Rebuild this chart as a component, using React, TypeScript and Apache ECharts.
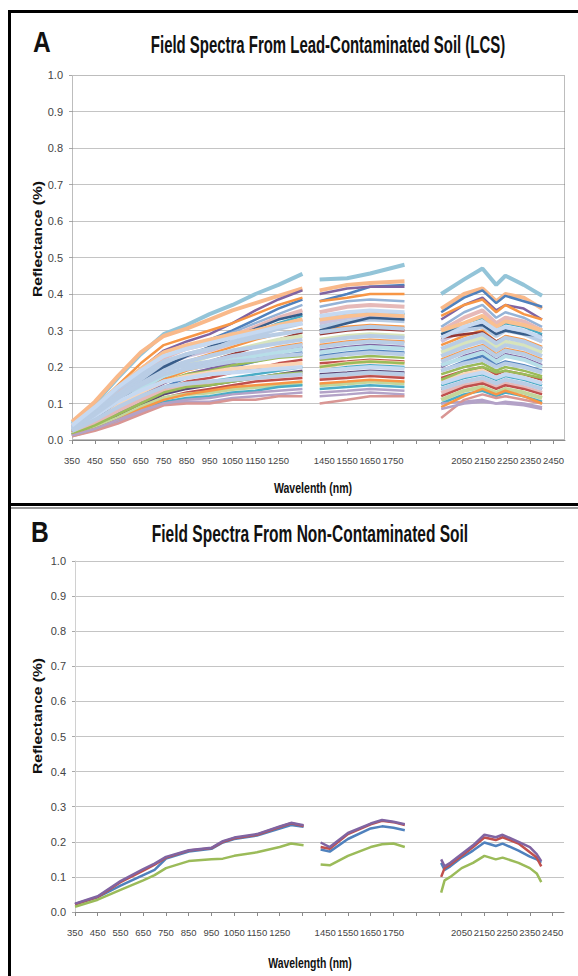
import React, { useEffect, useRef } from "react";
import * as echarts from "echarts";

// wavelength (nm) at the left end of each x axis; axes are drawn as offset from it
const X_ORIGIN = 350;
const X_SPAN = 2150;

// tick labels shown on the wavelength axes (1350, 1850, 1950 are blank in the source)
const xTickLabels = [350, 450, 550, 650, 750, 850, 950, 1050, 1150, 1250, 1450, 1550, 1650, 1750, 2050, 2150, 2250, 2350, 2450];

// ---------- Panel A : Lead-contaminated soil spectra ----------
const lcsWaveSeg1 = [350, 450, 550, 650, 750, 850, 950, 1050, 1150, 1250, 1355];
const lcsWaveSeg2 = [1430, 1550, 1650, 1800];
const lcsWaveSeg3 = [1960, 2060, 2140, 2200, 2240, 2320, 2400];

const lcsSpectra: number[][] = [
  [0.045, 0.10, 0.17, 0.235, 0.29, 0.315, 0.345, 0.37, 0.40, 0.425, 0.455, 0.44, 0.443, 0.456, 0.48, 0.40, 0.44, 0.47, 0.425, 0.45, 0.425, 0.395],
  [0.05, 0.105, 0.175, 0.24, 0.285, 0.305, 0.33, 0.355, 0.375, 0.395, 0.415, 0.41, 0.425, 0.43, 0.435, 0.36, 0.40, 0.415, 0.38, 0.40, 0.39, 0.36],
  [0.03, 0.07, 0.12, 0.175, 0.225, 0.255, 0.275, 0.30, 0.33, 0.36, 0.385, 0.38, 0.40, 0.42, 0.425, 0.35, 0.39, 0.41, 0.375, 0.395, 0.38, 0.365],
  [0.035, 0.08, 0.14, 0.195, 0.245, 0.27, 0.29, 0.32, 0.355, 0.385, 0.41, 0.40, 0.415, 0.42, 0.42, 0.33, 0.37, 0.39, 0.355, 0.37, 0.36, 0.33],
  [0.04, 0.09, 0.15, 0.21, 0.26, 0.28, 0.30, 0.32, 0.345, 0.37, 0.39, 0.38, 0.39, 0.40, 0.40, 0.34, 0.37, 0.385, 0.35, 0.37, 0.345, 0.33],
  [0.03, 0.075, 0.13, 0.18, 0.225, 0.25, 0.27, 0.295, 0.32, 0.345, 0.37, 0.365, 0.38, 0.385, 0.38, 0.31, 0.35, 0.37, 0.335, 0.35, 0.335, 0.31],
  [0.035, 0.08, 0.135, 0.185, 0.225, 0.25, 0.265, 0.285, 0.31, 0.335, 0.355, 0.35, 0.365, 0.37, 0.365, 0.30, 0.335, 0.355, 0.32, 0.335, 0.325, 0.30],
  [0.025, 0.065, 0.11, 0.16, 0.205, 0.23, 0.25, 0.27, 0.295, 0.32, 0.34, 0.33, 0.345, 0.35, 0.345, 0.29, 0.32, 0.335, 0.305, 0.32, 0.31, 0.29],
  [0.03, 0.07, 0.12, 0.165, 0.205, 0.23, 0.245, 0.265, 0.29, 0.31, 0.33, 0.32, 0.335, 0.34, 0.335, 0.27, 0.305, 0.32, 0.29, 0.305, 0.295, 0.27],
  [0.03, 0.075, 0.125, 0.17, 0.21, 0.235, 0.25, 0.27, 0.285, 0.305, 0.32, 0.31, 0.325, 0.33, 0.325, 0.28, 0.30, 0.31, 0.285, 0.30, 0.29, 0.27],
  [0.02, 0.055, 0.10, 0.145, 0.19, 0.215, 0.235, 0.255, 0.275, 0.29, 0.305, 0.30, 0.31, 0.315, 0.31, 0.26, 0.285, 0.30, 0.27, 0.285, 0.275, 0.255],
  [0.02, 0.05, 0.09, 0.13, 0.17, 0.195, 0.215, 0.235, 0.255, 0.275, 0.295, 0.29, 0.30, 0.305, 0.30, 0.28, 0.29, 0.295, 0.27, 0.28, 0.27, 0.25],
  [0.025, 0.06, 0.105, 0.15, 0.19, 0.21, 0.23, 0.245, 0.26, 0.275, 0.285, 0.275, 0.285, 0.29, 0.285, 0.24, 0.265, 0.28, 0.255, 0.27, 0.26, 0.24],
  [0.03, 0.07, 0.12, 0.16, 0.195, 0.215, 0.23, 0.245, 0.255, 0.265, 0.275, 0.27, 0.28, 0.285, 0.28, 0.23, 0.255, 0.27, 0.245, 0.26, 0.25, 0.23],
  [0.02, 0.05, 0.09, 0.13, 0.165, 0.19, 0.205, 0.22, 0.24, 0.255, 0.265, 0.26, 0.27, 0.275, 0.27, 0.22, 0.245, 0.26, 0.235, 0.25, 0.24, 0.22],
  [0.02, 0.045, 0.08, 0.12, 0.155, 0.18, 0.195, 0.21, 0.225, 0.24, 0.255, 0.245, 0.255, 0.26, 0.255, 0.20, 0.23, 0.245, 0.22, 0.235, 0.225, 0.205],
  [0.025, 0.06, 0.10, 0.14, 0.175, 0.195, 0.205, 0.22, 0.23, 0.24, 0.25, 0.24, 0.25, 0.255, 0.25, 0.205, 0.225, 0.24, 0.215, 0.23, 0.22, 0.20],
  [0.015, 0.04, 0.075, 0.11, 0.145, 0.17, 0.185, 0.20, 0.215, 0.23, 0.24, 0.23, 0.24, 0.245, 0.24, 0.19, 0.215, 0.23, 0.205, 0.215, 0.205, 0.19],
  [0.02, 0.05, 0.09, 0.13, 0.16, 0.18, 0.19, 0.205, 0.215, 0.225, 0.23, 0.22, 0.225, 0.23, 0.225, 0.18, 0.20, 0.21, 0.19, 0.20, 0.19, 0.175],
  [0.015, 0.04, 0.07, 0.105, 0.14, 0.16, 0.17, 0.185, 0.195, 0.21, 0.22, 0.21, 0.215, 0.22, 0.215, 0.17, 0.19, 0.20, 0.18, 0.19, 0.18, 0.165],
  [0.025, 0.055, 0.095, 0.13, 0.16, 0.175, 0.185, 0.195, 0.20, 0.205, 0.21, 0.20, 0.21, 0.215, 0.21, 0.16, 0.18, 0.19, 0.17, 0.18, 0.17, 0.155],
  [0.015, 0.04, 0.07, 0.10, 0.13, 0.15, 0.16, 0.17, 0.18, 0.19, 0.20, 0.19, 0.20, 0.205, 0.20, 0.15, 0.17, 0.18, 0.165, 0.175, 0.165, 0.15],
  [0.015, 0.035, 0.065, 0.095, 0.125, 0.14, 0.15, 0.16, 0.17, 0.18, 0.19, 0.18, 0.185, 0.19, 0.185, 0.14, 0.16, 0.17, 0.155, 0.165, 0.155, 0.14],
  [0.02, 0.045, 0.08, 0.11, 0.135, 0.15, 0.155, 0.165, 0.17, 0.175, 0.18, 0.17, 0.175, 0.18, 0.175, 0.13, 0.15, 0.16, 0.145, 0.155, 0.145, 0.13],
  [0.012, 0.03, 0.06, 0.09, 0.115, 0.13, 0.14, 0.15, 0.16, 0.165, 0.17, 0.165, 0.17, 0.175, 0.17, 0.12, 0.145, 0.155, 0.14, 0.15, 0.14, 0.125],
  [0.015, 0.035, 0.06, 0.09, 0.115, 0.125, 0.13, 0.14, 0.145, 0.15, 0.155, 0.15, 0.155, 0.16, 0.155, 0.11, 0.135, 0.145, 0.13, 0.14, 0.13, 0.115],
  [0.012, 0.03, 0.055, 0.08, 0.105, 0.115, 0.12, 0.13, 0.135, 0.145, 0.15, 0.14, 0.145, 0.15, 0.145, 0.10, 0.125, 0.135, 0.12, 0.13, 0.12, 0.105],
  [0.01, 0.028, 0.05, 0.075, 0.10, 0.105, 0.105, 0.115, 0.12, 0.125, 0.13, 0.12, 0.125, 0.13, 0.125, 0.10, 0.105, 0.11, 0.10, 0.105, 0.10, 0.09],
  [0.01, 0.025, 0.045, 0.07, 0.095, 0.10, 0.10, 0.11, 0.11, 0.12, 0.12, 0.10, 0.11, 0.12, 0.12, 0.06, 0.11, 0.125, 0.115, 0.12, 0.11, 0.10],
  [0.025, 0.06, 0.105, 0.155, 0.20, 0.23, 0.255, 0.28, 0.305, 0.33, 0.345, 0.30, 0.32, 0.335, 0.33, 0.29, 0.31, 0.315, 0.29, 0.30, 0.29, 0.285],
  [0.04, 0.09, 0.145, 0.195, 0.24, 0.26, 0.275, 0.29, 0.30, 0.315, 0.33, 0.33, 0.34, 0.345, 0.34, 0.30, 0.32, 0.34, 0.31, 0.325, 0.315, 0.30],
  [0.035, 0.085, 0.14, 0.18, 0.215, 0.235, 0.25, 0.265, 0.28, 0.29, 0.30, 0.295, 0.305, 0.31, 0.305, 0.25, 0.275, 0.29, 0.265, 0.28, 0.27, 0.25],
  [0.03, 0.07, 0.115, 0.15, 0.18, 0.195, 0.205, 0.215, 0.22, 0.23, 0.235, 0.225, 0.235, 0.24, 0.235, 0.19, 0.21, 0.22, 0.20, 0.21, 0.20, 0.185],
  [0.03, 0.065, 0.105, 0.135, 0.16, 0.17, 0.18, 0.185, 0.19, 0.195, 0.20, 0.19, 0.195, 0.20, 0.195, 0.155, 0.175, 0.185, 0.17, 0.18, 0.17, 0.155],
  [0.015, 0.04, 0.07, 0.10, 0.13, 0.145, 0.15, 0.16, 0.17, 0.18, 0.185, 0.20, 0.21, 0.215, 0.21, 0.165, 0.19, 0.20, 0.185, 0.19, 0.18, 0.17],
  [0.012, 0.03, 0.055, 0.085, 0.11, 0.125, 0.135, 0.145, 0.15, 0.155, 0.16, 0.155, 0.16, 0.165, 0.16, 0.09, 0.12, 0.14, 0.125, 0.135, 0.12, 0.10],
  [0.012, 0.03, 0.055, 0.08, 0.10, 0.11, 0.115, 0.125, 0.13, 0.135, 0.14, 0.13, 0.135, 0.14, 0.135, 0.085, 0.10, 0.105, 0.10, 0.10, 0.095, 0.085],
  [0.03, 0.07, 0.115, 0.155, 0.19, 0.205, 0.215, 0.23, 0.24, 0.25, 0.26, 0.255, 0.265, 0.27, 0.265, 0.215, 0.24, 0.255, 0.23, 0.245, 0.235, 0.215],
  [0.025, 0.055, 0.09, 0.12, 0.145, 0.155, 0.16, 0.165, 0.17, 0.175, 0.18, 0.175, 0.18, 0.185, 0.18, 0.14, 0.16, 0.17, 0.155, 0.165, 0.155, 0.14],
  [0.04, 0.09, 0.145, 0.19, 0.23, 0.25, 0.265, 0.28, 0.295, 0.31, 0.32, 0.34, 0.35, 0.355, 0.35, 0.28, 0.31, 0.325, 0.30, 0.31, 0.30, 0.28],
];

const lcsColors = [
  "#93C4D8", "#F9B98A", "#4F81BD", "#8064A2", "#F79646", "#95B3D7", "#E6B9B8", "#4BACC6",
  "#CCC1DA", "#B9CDE5", "#F79646", "#953735", "#D7E4BD", "#B9CDE5", "#F79646", "#8064A2",
  "#B7DEE8", "#4F81BD", "#9BBB59", "#C0504D", "#FCD5B5", "#4BACC6", "#5C4776", "#E6B9B8",
  "#C0504D", "#C3D69B", "#4BACC6", "#B3A2C7", "#D99694", "#385D8A", "#FAC090", "#B9CDE5",
  "#B9CDE5", "#C6D9F1", "#9BBB59", "#F79646", "#B3A2C7", "#B9CDE5", "#B9CDE5", "#C6D9F1",
];

// ---------- Panel B : Non-contaminated soil spectra ----------
const ncsWaveSeg1 = [350, 450, 550, 650, 700, 750, 850, 950, 1000, 1050, 1150, 1250, 1300, 1355];
const ncsWaveSeg2 = [1430, 1470, 1550, 1650, 1700, 1750, 1800];
const ncsWaveSeg3 = [1960, 1975, 2000, 2050, 2100, 2150, 2200, 2230, 2300, 2350, 2380, 2400];

const ncsBlue = [0.022, 0.042, 0.075, 0.105, 0.12, 0.152, 0.172, 0.18, 0.198, 0.208, 0.218, 0.238, 0.248, 0.243,
  0.178, 0.172, 0.208, 0.238, 0.244, 0.24, 0.233,
  0.14, 0.12, 0.13, 0.155, 0.175, 0.198, 0.188, 0.195, 0.175, 0.158, 0.15, 0.14];
const ncsRed = [0.022, 0.043, 0.085, 0.118, 0.135, 0.155, 0.175, 0.182, 0.2, 0.21, 0.22, 0.242, 0.253, 0.245,
  0.185, 0.18, 0.222, 0.25, 0.26, 0.256, 0.248,
  0.1, 0.125, 0.135, 0.16, 0.185, 0.212, 0.205, 0.213, 0.195, 0.17, 0.155, 0.13];
const ncsGreen = [0.015, 0.035, 0.063, 0.09, 0.105, 0.125, 0.145, 0.15, 0.152, 0.16, 0.17, 0.185, 0.195, 0.19,
  0.135, 0.133, 0.16, 0.185, 0.193, 0.195, 0.185,
  0.055, 0.09, 0.1, 0.125, 0.14, 0.16, 0.15, 0.155, 0.14, 0.125, 0.11, 0.085];
const ncsPurple = [0.024, 0.045, 0.088, 0.122, 0.138, 0.157, 0.176, 0.183, 0.202, 0.212, 0.222, 0.244, 0.254, 0.247,
  0.198, 0.185, 0.225, 0.252, 0.262, 0.257, 0.25,
  0.15, 0.13, 0.14, 0.165, 0.19, 0.22, 0.213, 0.22, 0.2, 0.185, 0.165, 0.145];

const ncsSeries = [ncsBlue, ncsRed, ncsGreen, ncsPurple];
const ncsColors = ["#4F81BD", "#C0504D", "#9BBB59", "#8064A2"];

function toLineData(segments: number[][], values: number[]) {
  const out: (number | null)[][] = [];
  let k = 0;
  segments.forEach((seg, si) => {
    if (si > 0) {
      const prev = segments[si - 1];
      out.push([(prev[prev.length - 1] + seg[0]) / 2 - X_ORIGIN, null]);
    }
    seg.forEach((w) => {
      out.push([w - X_ORIGIN, values[k]]);
      k++;
    });
  });
  return out;
}

function isPale(hex: string) {
  const n = parseInt(hex.slice(1), 16);
  const r = (n >> 16) & 255, g = (n >> 8) & 255, b = n & 255;
  return 0.299 * r + 0.587 * g + 0.114 * b > 175;
}

const labelFont = "'Liberation Sans', Arial, sans-serif";
const titleFont = "'Liberation Sans', Arial, sans-serif";

function xAxisFor(gridIndex: number) {
  return {
    type: "value",
    gridIndex,
    min: 0,
    max: X_SPAN,
    interval: 100,
    axisLine: { show: true, lineStyle: { color: "#8a8a8a", width: 1 } },
    axisTick: { show: true, length: 4, lineStyle: { color: "#8a8a8a" } },
    splitLine: { show: false },
    axisLabel: {
      margin: 15,
      fontSize: 9.5,
      fontFamily: labelFont,
      color: "#444444",
      showMaxLabel: false,
      hideOverlap: false,
      formatter: (v: number) => {
        const w = Math.round(v) + X_ORIGIN;
        return xTickLabels.includes(w) ? String(w) : "";
      },
    },
  };
}

function yAxisFor(gridIndex: number) {
  return {
    type: "value",
    gridIndex,
    min: 0,
    max: 1,
    interval: 0.1,
    axisLine: { show: gridIndex === 1, lineStyle: { color: "#d0d0d0" } },
    axisTick: { show: true, length: 3, lineStyle: { color: "#a8a8a8" } },
    splitLine: {
      show: true,
      showMaxLine: gridIndex === 1,
      lineStyle: { color: "#c4c4c4", width: 1 },
    },
    axisLabel: {
      margin: 9,
      fontSize: 11,
      fontFamily: labelFont,
      color: "#444444",
      formatter: (v: number) => v.toFixed(1),
    },
  };
}

export default function App() {
  const ref = useRef<HTMLDivElement>(null);

  useEffect(() => {
    if (!ref.current) return;
    const chart = echarts.init(ref.current, undefined, { renderer: "svg" });

    const series: any[] = [];
    lcsSpectra.forEach((vals, i) => {
      const c = lcsColors[i % lcsColors.length];
      series.push({
        type: "line",
        xAxisIndex: 0,
        yAxisIndex: 0,
        data: toLineData([lcsWaveSeg1, lcsWaveSeg2, lcsWaveSeg3], vals),
        showSymbol: false,
        symbol: "none",
        connectNulls: false,
        lineStyle: { color: c, width: isPale(c) ? 4 : 2.5 },
        itemStyle: { color: c },
        z: 3,
      });
    });
    ncsSeries.forEach((vals, i) => {
      series.push({
        type: "line",
        xAxisIndex: 1,
        yAxisIndex: 1,
        data: toLineData([ncsWaveSeg1, ncsWaveSeg2, ncsWaveSeg3], vals),
        showSymbol: false,
        symbol: "none",
        connectNulls: false,
        lineStyle: { color: ncsColors[i], width: 2.5 },
        itemStyle: { color: ncsColors[i] },
        z: 3,
      });
    });

    const txt = (text: string, x: number, y: number, font: string, extra: any = {}) => ({
      type: "text",
      x,
      y,
      ...extra,
      style: {
        text,
        x: 0,
        y: 0,
        font,
        fill: "#111",
        align: "center",
        verticalAlign: "middle",
        textAlign: "center",
        textVerticalAlign: "middle",
      },
      silent: true,
      z: 10,
    });

    chart.setOption({
      animation: false,
      backgroundColor: "#ffffff",
      grid: [
        { left: 72, top: 75, width: 493, height: 365, containLabel: false },
        { left: 75, top: 561, width: 489, height: 351, containLabel: false },
      ],
      xAxis: [xAxisFor(0), xAxisFor(1)],
      yAxis: [yAxisFor(0), yAxisFor(1)],
      series,
      graphic: [
        // panel frames
        {
          type: "rect",
          shape: { x: 9.5, y: 11.5, width: 640, height: 493 },
          style: { fill: "none", stroke: "#000", lineWidth: 3 },
          silent: true,
          z: 1,
        },
        {
          type: "line",
          shape: { x1: 11, y1: 508, x2: 578, y2: 508 },
          style: { stroke: "#9a9a9a", lineWidth: 2 },
          silent: true,
          z: 1,
        },
        {
          type: "line",
          shape: { x1: 9.5, y1: 506, x2: 9.5, y2: 980 },
          style: { stroke: "#000", lineWidth: 3 },
          silent: true,
          z: 1,
        },
        // dotted plot-area border of panel A
        {
          type: "rect",
          shape: { x: 72.5, y: 75.5, width: 492, height: 364 },
          style: { fill: "none", stroke: "#7a7a7a", lineWidth: 1, lineDash: [1, 1] },
          silent: true,
          z: 1,
        },
        txt("A", 42, 42, `bold 30px ${titleFont}`, { scaleX: 0.82 }),
        txt("Field Spectra From Lead-Contaminated Soil (LCS)", 328, 45, `bold 23px ${titleFont}`, { scaleX: 0.65 }),
        txt("B", 40, 532, `bold 30px ${titleFont}`, { scaleX: 0.82 }),
        txt("Field Spectra From Non-Contaminated Soil", 310, 534, `bold 23px ${titleFont}`, { scaleX: 0.675 }),
        txt("Reflectance (%)", 37, 239, `bold 13px ${titleFont}`, { rotation: Math.PI / 2, scaleX: 1.2 }),
        txt("Reflectance (%)", 37, 716, `bold 13px ${titleFont}`, { rotation: Math.PI / 2, scaleX: 1.2 }),
        txt("Wavelenth (nm)", 313, 489, `bold 12px ${titleFont}`, { scaleX: 0.88, scaleY: 1.15 }),
        txt("Wavelength (nm)", 310, 963, `bold 12px ${titleFont}`, { scaleX: 0.87, scaleY: 1.15 }),
      ],
    });

    return () => {
      chart.dispose();
    };
  }, []);

  return (
    <div
      ref={ref}
      style={{ position: "absolute", left: 0, top: 0, width: 578, height: 976 }}
    />
  );
}
